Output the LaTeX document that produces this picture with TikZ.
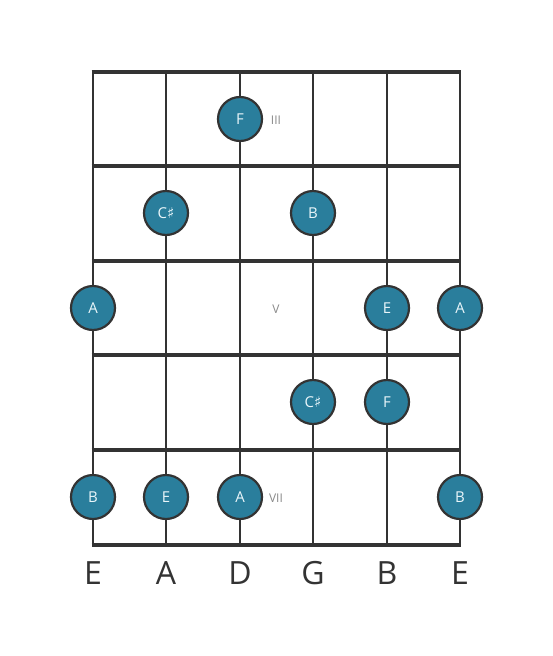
\documentclass[tikz,border=0pt]{standalone}
\usepackage{fontspec}
\setmainfont{Open Sans}
\newfontfamily\symf{DejaVu Sans}
\definecolor{teal}{HTML}{2A7E9C}
\definecolor{ink}{HTML}{333333}
\definecolor{lbl}{HTML}{8A8A8A}
\definecolor{notetext}{HTML}{EAF6FA}
\newcommand{\shp}{{\symf\char"266F}}
\begin{document}
\begin{tikzpicture}[x=1pt,y=-1pt,
  fretline/.style={ink,line width=4.5pt},
  stringline/.style={ink,line width=2.6pt},
  note/.style={circle,fill=teal,draw=ink,line width=2.2pt,minimum size=44pt,inner sep=0pt,text=notetext,font=\fontsize{15}{15}\selectfont},
  fretlbl/.style={text=lbl,font=\fontsize{12}{12}\selectfont},
  strlbl/.style={text=ink,font=\fontsize{32}{32}\selectfont}]
\useasboundingbox (0,0) rectangle (553,656);
\fill[white] (0,0) rectangle (553,656);
% strings
\foreach \x/\n in {93/s1,166/s2,240/s3,313/s4,387/s5,460/s6}{
  \coordinate (\n t) at (\x,72);
  \coordinate (\n b) at (\x,545);
  \draw[stringline] (\n t) -- (\n b);
}
% frets
\foreach \y/\n in {72/f0,166/f1,261/f2,355/f3,450/f4,545/f5}{
  \coordinate (\n l) at (91.7,\y);
  \coordinate (\n r) at (461.3,\y);
  \draw[fretline] (\n l) -- (\n r);
}
% notes
\node[note] (n1) at (240,119) {F};
\node[note] (n2) at (166,213) {C\shp};
\node[note] (n3) at (313,213) {B};
\node[note] (n4) at (93,308) {A};
\node[note] (n5) at (387,308) {E};
\node[note] (n6) at (460,308) {A};
\node[note] (n7) at (313,402) {C\shp};
\node[note] (n8) at (387,402) {F};
\node[note] (n9) at (93,497) {B};
\node[note] (n10) at (166,497) {E};
\node[note] (n11) at (240,497) {A};
\node[note] (n12) at (460,497) {B};
% fret labels
\node[fretlbl] (l3) at (276,120) {III};
\node[fretlbl] (l5) at (276,309) {V};
\node[fretlbl] (l7) at (276,498) {VII};
% string labels
\foreach \x/\t/\n in {93/E/e1,166/A/a,240/D/d,313/G/g,387/B/b,460/E/e2}{
  \node[strlbl] (\n) at (\x,573) {\t};
}
\end{tikzpicture}
\end{document}
